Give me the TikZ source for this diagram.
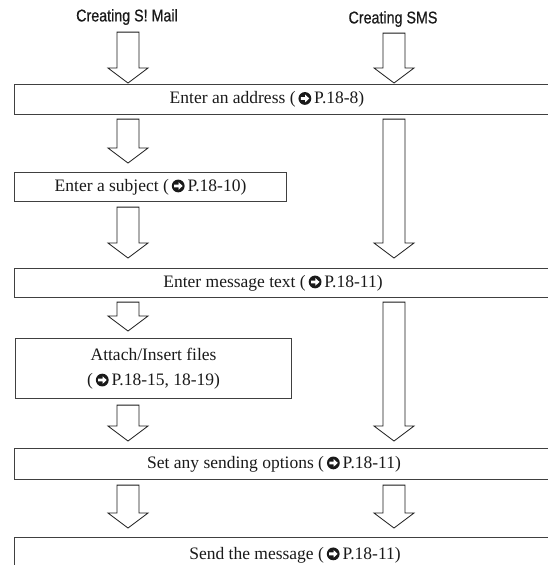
\documentclass[tikz,border=0pt]{standalone}
\usepackage{fontspec}
\setmainfont{Liberation Serif}
\newfontfamily\condsans[FakeStretch=0.84,FakeBold=0.6]{Liberation Sans}
\usetikzlibrary{calc}
\definecolor{boxgray}{HTML}{404040}
\definecolor{inkgray}{HTML}{1A1A1A}
\tikzset{
  stepbox/.style={draw=boxgray, line width=1.1pt, inner sep=0pt,
    font=\fontsize{17.5pt}{25pt}\selectfont, text=inkgray},
  widebox/.style={stepbox, minimum width=600pt, anchor=north west},
  boxtext/.style={font=\fontsize{17.5pt}{25pt}\selectfont, text=inkgray, inner sep=0pt},
  headtext/.style={font=\condsans\fontsize{17pt}{19pt}\selectfont, text=inkgray, inner sep=0pt},
  hollow/.style={draw=inkgray, line width=0.8pt, fill=white, line join=miter},
}
% circled arrow used in the page references
\newsavebox{\gobox}
\sbox{\gobox}{\tikz[baseline={(0,-5.3pt)}]{%
  \fill[inkgray] (0,0) circle (6.4pt);
  \fill[white] (-4.1pt,1.4pt) -- (0.3pt,1.4pt) -- (0.3pt,3.8pt) -- (4.4pt,0pt)
    -- (0.3pt,-3.8pt) -- (0.3pt,-1.4pt) -- (-4.1pt,-1.4pt) -- cycle;}}
\newcommand{\goref}[1]{(\,\usebox{\gobox}\,#1)}
% hollow block arrow from #1 down to #2
\newcommand{\bigarrow}[2]{%
  \path (#1) coordinate (ba-s) (#2) coordinate (ba-e);
  \draw[hollow] let \p1=(ba-s), \p2=(ba-e) in
    (\x1-11pt,\y1) -- (\x1+11pt,\y1) -- (\x1+11pt,\y2+15pt) -- (\x1+20pt,\y2+15pt)
    -- (\x1,\y2) -- (\x1-20pt,\y2+15pt) -- (\x1-11pt,\y2+15pt) -- cycle;}
\begin{document}
\begin{tikzpicture}[x=1pt,y=-1pt]
\useasboundingbox (0,0) rectangle (547,565);
\coordinate (mailcol) at (128,0);
\coordinate (smscol) at (394,0);

% column heads
\node[headtext] (mailhead) at (127,17) {Creating S! Mail};
\node[headtext] (smshead) at (393,19) {Creating SMS};

% steps
\node[widebox, minimum height=30pt] (addr) at (14,84) {};
\node[boxtext] (addrtext) at ($(addr.west)+(253,0)$) {Enter an address \goref{P.18-8}};
\node[stepbox, minimum width=272pt, minimum height=29pt, anchor=north west] (subj) at (14,172)
  {Enter a subject \goref{P.18-10}};
\node[widebox, minimum height=29pt] (msg) at (14,268) {};
\node[boxtext] (msgtext) at ($(msg.west)+(259,0)$) {Enter message text \goref{P.18-11}};
\node[stepbox, minimum width=276pt, minimum height=60pt, anchor=north west, align=center] (files) at (15,338)
  {Attach/Insert files\\\goref{P.18-15, 18-19}};
\node[widebox, minimum height=31pt] (opts) at (14,448) {};
\node[boxtext] (optstext) at ($(opts.west)+(260,0)$) {Set any sending options \goref{P.18-11}};
\node[widebox, minimum height=40pt] (send) at (14,537) {};
\node[boxtext] (sendtext) at ($(send.north west)+(281,18)$) {Send the message \goref{P.18-11}};

% arrows
\bigarrow{$(mailhead.south -| mailcol)+(0,7)$}{$(addr.north -| mailcol)+(0,-1)$}
\bigarrow{$(smshead.south -| smscol)+(0,6)$}{$(addr.north -| smscol)+(0,-1)$}
\bigarrow{$(addr.south -| mailcol)+(0,4)$}{$(subj.north -| mailcol)+(0,-9)$}
\bigarrow{$(addr.south -| smscol)+(0,4)$}{$(msg.north -| smscol)+(0,-10)$}
\bigarrow{$(subj.south -| mailcol)+(0,5)$}{$(msg.north -| mailcol)+(0,-10)$}
\bigarrow{$(msg.south -| mailcol)+(0,4)$}{$(files.north -| mailcol)+(0,-7)$}
\bigarrow{$(msg.south -| smscol)+(0,4)$}{$(opts.north -| smscol)+(0,-7)$}
\bigarrow{$(files.south -| mailcol)+(0,6)$}{$(opts.north -| mailcol)+(0,-7)$}
\bigarrow{$(opts.south -| mailcol)+(0,5)$}{$(send.north -| mailcol)+(0,-9)$}
\bigarrow{$(opts.south -| smscol)+(0,5)$}{$(send.north -| smscol)+(0,-9)$}
\end{tikzpicture}
\end{document}
